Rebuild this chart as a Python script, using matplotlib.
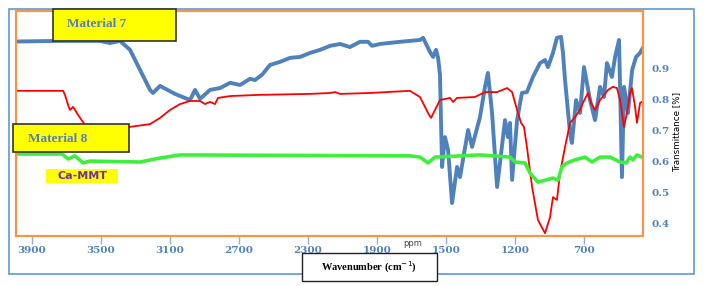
import numpy as np
import matplotlib
matplotlib.use("Agg")
import matplotlib.pyplot as plt
from matplotlib.patches import Rectangle

# Material 7 (blue)
m7_wn = [3990, 3738, 3506, 3448, 3390, 3332, 3274, 3216, 3199, 3158, 3071, 2984,
         2955, 2926, 2868, 2810, 2752, 2694, 2636, 2607, 2567, 2520, 2462, 2404,
         2346, 2288, 2230, 2172, 2114, 2057, 1999, 1952, 1929, 1883, 1767, 1651,
         1633, 1593, 1575, 1558, 1546, 1535, 1523, 1506, 1488, 1465, 1436, 1419,
         1372, 1349, 1303, 1274, 1257, 1233, 1204, 1187, 1158, 1141, 1129, 1117,
         1088, 1060, 1031, 996, 955, 926, 909, 880, 857, 833, 822, 810, 781, 770,
         746, 723, 700, 665, 636, 607, 584, 567, 538, 520, 497, 491, 480, 468,
         445, 421, 398, 375, 346]
m7_tr = [0.989, 0.991, 0.991, 0.984, 0.991, 0.962, 0.897, 0.832, 0.822, 0.845,
         0.819, 0.799, 0.832, 0.803, 0.832, 0.838, 0.855, 0.848, 0.868, 0.864,
         0.881, 0.913, 0.923, 0.936, 0.939, 0.952, 0.962, 0.975, 0.981, 0.971,
         0.988, 0.988, 0.975, 0.981, 0.988, 0.994, 1.001, 0.955, 0.939, 0.962,
         0.936, 0.881, 0.582, 0.679, 0.637, 0.465, 0.582, 0.549, 0.702, 0.647,
         0.744, 0.842, 0.887, 0.757, 0.517, 0.595, 0.734, 0.679, 0.725, 0.540,
         0.734, 0.822, 0.825, 0.874, 0.919, 0.929, 0.906, 0.952, 1.001, 1.004,
         0.952, 0.864, 0.692, 0.660, 0.799, 0.757, 0.906, 0.799, 0.734, 0.842,
         0.809, 0.919, 0.874, 0.939, 0.994, 0.842, 0.549, 0.842, 0.757, 0.897,
         0.939, 0.952, 0.981]

# Material 8 (red)
m8_wn = [3990, 3720, 3709, 3691, 3680, 3662, 3633, 3593, 3535, 3332, 3216, 3158,
         3100, 3042, 2984, 2926, 2897, 2868, 2839, 2822, 2752, 2578, 2288, 2172,
         2143, 2114, 1941, 1709, 1651, 1604, 1587, 1564, 1535, 1477, 1459, 1436,
         1332, 1274, 1204, 1146, 1117, 1088, 1065, 1048, 1031, 1001, 967, 926,
         897, 880, 857, 839, 810, 781, 752, 723, 706, 677, 659, 636, 607, 561,
         532, 509, 491, 468, 451, 433, 422, 404, 393, 375, 346]
m8_tr = [0.829, 0.829, 0.816, 0.783, 0.767, 0.777, 0.751, 0.718, 0.712, 0.712,
         0.721, 0.741, 0.767, 0.786, 0.796, 0.796, 0.786, 0.793, 0.786, 0.806,
         0.812, 0.816, 0.819, 0.822, 0.825, 0.819, 0.822, 0.829, 0.809, 0.757,
         0.741, 0.767, 0.799, 0.806, 0.793, 0.806, 0.809, 0.825, 0.825, 0.838,
         0.825, 0.767, 0.725, 0.712, 0.647, 0.517, 0.410, 0.367, 0.419, 0.484,
         0.475, 0.562, 0.647, 0.725, 0.744, 0.767, 0.790, 0.822, 0.790, 0.767,
         0.799, 0.832, 0.842, 0.838, 0.799, 0.712, 0.757, 0.822, 0.838, 0.777,
         0.725, 0.790, 0.799]

# Ca-MMT (green)
mmt_wn = [3990, 3726, 3691, 3651, 3604, 3564, 3274, 3158, 3042, 1709, 1651, 1604,
          1564, 1303, 1129, 1100, 1042, 1013, 967, 926, 880, 851, 828, 799, 752,
          694, 653, 607, 549, 491, 456, 433, 416, 393, 364]
mmt_tr = [0.624, 0.624, 0.608, 0.618, 0.595, 0.601, 0.598, 0.611, 0.621, 0.618,
          0.614, 0.595, 0.614, 0.621, 0.614, 0.598, 0.595, 0.562, 0.533, 0.539,
          0.546, 0.539, 0.582, 0.595, 0.605, 0.614, 0.598, 0.614, 0.614, 0.598,
          0.595, 0.614, 0.605, 0.621, 0.614]

x_ticks = [3900, 3500, 3100, 2700, 2300, 1900, 1500, 1100, 700]
x_labels = ["3900", "3500", "3100", "2700", "2300", "1900", "1500", "1200", "700"]
y_ticks = [0.4, 0.5, 0.6, 0.7, 0.8, 0.9]

W, H = 704, 286
BLUE = "#4F81BD"
ORANGE = "#F79646"


def fx(px):
    return px / W


def fy(py):
    return 1 - py / H


fig = plt.figure(figsize=(7.04, 2.86), dpi=100)
ax = fig.add_axes([fx(16), fy(236), fx(643) - fx(16), fy(11) - fy(236)])

ax.plot(m7_wn, m7_tr, color=BLUE, lw=2.8, solid_joinstyle="round")
ax.plot(m8_wn, m8_tr, color="#FF0000", lw=1.3, solid_joinstyle="round")
ax.plot(mmt_wn, mmt_tr, color="#3CF03C", lw=2.6, solid_joinstyle="round")

ax.set_xlim(3993, 358)
ax.set_ylim(0.358, 1.088)

ax.set_xticks(x_ticks)
ax.set_xticklabels(x_labels)
ax.tick_params(axis="x", direction="out", length=6, width=1, color="#8FB0DA",
               labelcolor=BLUE, labelsize=7.5, pad=1)
ax.yaxis.tick_right()
ax.set_yticks(y_ticks)
ax.set_yticklabels([f"{v:.1f}" for v in y_ticks])
ax.tick_params(axis="y", length=0, labelcolor=BLUE, labelsize=7.5, pad=6)
for lab in ax.get_xticklabels() + ax.get_yticklabels():
    lab.set_fontweight("bold")
    lab.set_family("DejaVu Serif")

for sp in ax.spines.values():
    sp.set_color(ORANGE)
    sp.set_linewidth(1.6)

# outer frame
fig.patches.append(Rectangle((fx(9), fy(274)), fx(694) - fx(9), fy(9) - fy(274),
                             fill=False, ec="#5B9BD5", lw=1.2,
                             transform=fig.transFigure, zorder=0))

# Material 7 box
fig.patches.append(Rectangle((fx(53), fy(41)), fx(176) - fx(53), fy(9) - fy(41),
                             fc="#FFFF00", ec="#333333", lw=1.2,
                             transform=fig.transFigure, zorder=5))
fig.text(fx(67), fy(24), "Material 7", color=BLUE, fontsize=9.5, fontweight="bold",
         family="Liberation Serif", ha="left", va="center", zorder=6)

# Material 8 box
fig.patches.append(Rectangle((fx(13), fy(152)), fx(129) - fx(13), fy(124) - fy(152),
                             fc="#FFFF00", ec="#333333", lw=1.2,
                             transform=fig.transFigure, zorder=5))
fig.text(fx(28), fy(139), "Material 8", color=BLUE, fontsize=9.5, fontweight="bold",
         family="Liberation Serif", ha="left", va="center", zorder=6)

# Ca-MMT label
fig.patches.append(Rectangle((fx(46), fy(183)), fx(118) - fx(46), fy(169) - fy(183),
                             fc="#FFFF00", ec="none",
                             transform=fig.transFigure, zorder=5))
fig.text(fx(82), fy(176), "Ca-MMT", color="#7030A0", fontsize=8, fontweight="bold",
         ha="center", va="center", zorder=6)

# Wavenumber box
fig.patches.append(Rectangle((fx(302), fy(281)), fx(437) - fx(302), fy(253) - fy(281),
                             fc="white", ec="#222222", lw=1.0,
                             transform=fig.transFigure, zorder=5))
fig.text(fx(369), fy(267), "Wavenumber (cm$^{-1}$)", color="black", fontsize=7.5,
         fontweight="bold", family="Liberation Serif", ha="center", va="center",
         zorder=6)

fig.text(fx(413), fy(243), "ppm", color="#444444", fontsize=6, ha="center",
         va="center")

fig.text(fx(677), fy(132), "Transmittance [%]", color="black", fontsize=6.3,
         rotation=90, ha="center", va="center")

fig.savefig("out.png", dpi=100)
